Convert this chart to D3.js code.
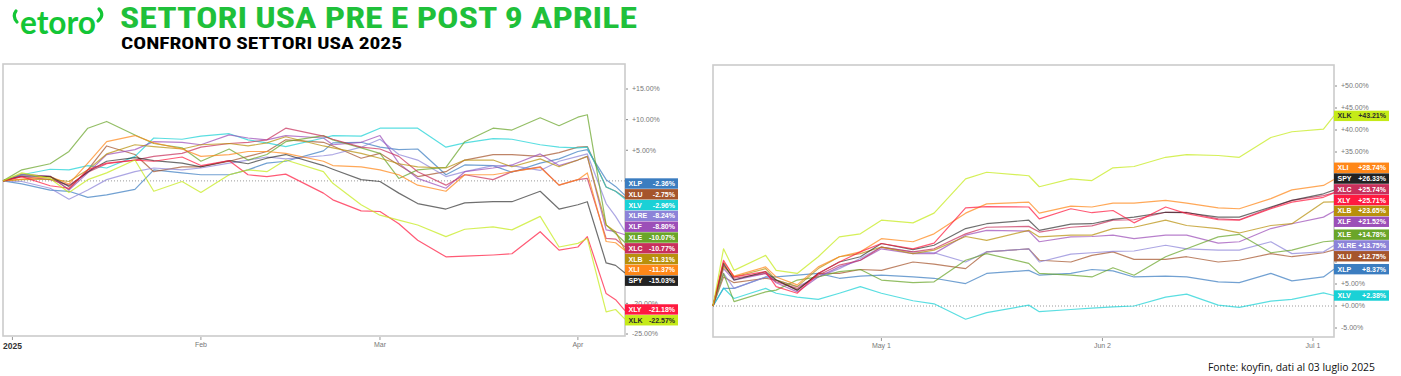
<!DOCTYPE html>
<html>
<head>
<meta charset="utf-8">
<script src="https://cdn.jsdelivr.net/npm/d3@7"></script>
<style>
  body { margin: 0; background: #fff; }
  svg { display: block; }
</style>
</head>
<body>
<script>
// tickers in legend order, with their colours
const tickers = ["XLP", "XLU", "XLV", "XLRE", "XLF", "XLE", "XLC", "XLB", "XLI", "SPY", "XLY", "XLK"];
const tickerColors = ["#3b7dc0", "#a5552c", "#1ad1d6", "#8c83d8", "#9c4fb8", "#6aa52a",
                      "#c8305c", "#b8900c", "#ff8718", "#222222", "#ff1a40", "#c5ea18"];

// market holidays (koyfin draws on trading days)
const holidays = ["2025-01-01", "2025-01-09", "2025-01-20", "2025-02-17", "2025-04-18", "2025-05-26", "2025-06-19"];

// ---- pre 9 April: % change since 31 Dec 2024 ----
const preDates = ["2024-12-31", "2025-01-03", "2025-01-08", "2025-01-13", "2025-01-15", "2025-01-17",
  "2025-01-23", "2025-01-27", "2025-01-30", "2025-02-03", "2025-02-06", "2025-02-10", "2025-02-12",
  "2025-02-14", "2025-02-21", "2025-02-24", "2025-02-27", "2025-03-03", "2025-03-05", "2025-03-07",
  "2025-03-12", "2025-03-14", "2025-03-19", "2025-03-21", "2025-03-26", "2025-03-28", "2025-04-01",
  "2025-04-02", "2025-04-04", "2025-04-07", "2025-04-08"];
const preXLP = [0, -0.5, -1.5, -1.7, -2.7, -2.3, -1.4, 1.8, 1.3, 1.0, 1.0, 1.8, 2.9, 3.2, 4.9, 6.2, 6.3, 5.5, 5.1, 5.2, 1.0, 2.6, 2.5, 1.4, 2.9, 3.6, 4.8, 5.1, 0.2, -0.9, -2.36];
const preXLU = [0, 1.1, 0.7, -1.4, 1.8, 5.7, 4.3, 1.5, 2.3, 2.3, 3.2, 4.0, 4.8, 6.7, 6.3, 5.7, 3.7, 4.5, 2.6, 0.7, 1.5, 3.4, 4.3, 4.3, 4.0, 4.6, 5.5, 5.6, -1.0, -1.7, -2.75];
const preXLV = [0, 1.0, 1.9, 1.8, 2.5, 2.1, 4.0, 7.0, 6.8, 7.3, 7.7, 6.7, 6.2, 5.6, 7.0, 7.4, 7.3, 8.6, 8.6, 8.6, 5.5, 6.2, 6.9, 6.8, 5.9, 5.5, 5.4, 5.5, -1.0, -1.7, -2.96];
const preXLRE = [0, -0.1, -1.2, -3.0, -1.5, 0.2, 1.5, 2.1, 1.8, 2.1, 2.9, 3.4, 3.9, 3.6, 4.1, 4.3, 5.5, 6.8, 4.3, 3.4, 0.7, 1.5, 2.5, 2.5, 1.7, 3.2, 4.0, 4.4, -3.7, -5.8, -8.24];
const preXLF = [0, 1.0, 0.8, -1.5, 1.3, 4.3, 5.1, 6.4, 6.3, 5.9, 7.5, 7.0, 6.7, 7.4, 7.0, 5.9, 6.3, 7.4, 2.9, 0.4, -1.2, 1.5, 2.1, 2.6, 4.4, 2.5, 3.4, 4.0, -8.0, -8.3, -8.80];
const preXLE = [0, 1.8, 2.8, 4.8, 8.6, 9.7, 7.5, 6.1, 5.4, 3.2, 5.2, 3.4, 4.3, 6.4, 7.4, 6.7, 5.4, 4.5, 0.4, 1.8, 2.2, 6.4, 8.6, 8.3, 10.3, 9.0, 10.4, 10.8, -7.2, -8.6, -10.07];
const preXLC = [0, 0.7, 0.2, -0.7, 1.4, 2.8, 3.4, 4.0, 4.5, 5.5, 6.1, 6.3, 6.7, 8.6, 7.3, 6.8, 5.5, 5.2, 4.0, 1.5, -0.7, 1.0, 0.2, 1.5, 2.3, -0.7, 0.2, 0.4, -9.4, -9.5, -10.77];
const preXLB = [0, 0.2, 0.3, -0.1, 1.8, 4.4, 5.9, 5.6, 5.2, 5.9, 6.1, 5.7, 6.2, 7.2, 5.7, 5.4, 4.5, 3.7, 2.8, 2.3, 2.1, 3.4, 3.4, 2.3, 3.6, 2.3, 3.4, 4.0, -7.2, -8.3, -11.31];
const preXLI = [0, 0.3, 0.7, -0.5, 2.9, 6.4, 7.4, 6.2, 5.2, 4.0, 4.3, 4.8, 4.8, 4.5, 3.2, 2.5, 2.3, 1.8, 1.0, -0.7, -1.7, 1.0, 1.0, 1.5, 2.2, -0.7, 0.2, 1.3, -9.9, -10.1, -11.37];
const preSPY = [0, 0.8, 0.7, -0.9, 1.5, 3.2, 3.8, 3.3, 2.9, 2.3, 3.3, 2.8, 3.7, 4.3, 2.5, 1.9, 0.2, -0.1, -2.0, -3.7, -4.6, -3.6, -3.4, -3.4, -1.7, -4.6, -3.9, -3.4, -13.4, -13.8, -15.03];
const preXLY = [0, 0.7, -0.8, -1.2, 1.8, 2.9, 3.4, 3.2, 3.9, 2.5, 3.3, 1.0, 0.7, 1.1, -2.0, -3.1, -4.9, -5.0, -7.0, -9.7, -12.4, -12.3, -12.1, -11.9, -8.3, -11.3, -10.8, -9.1, -18.4, -19.4, -21.18];
const preXLK = [0, 1.3, 0.4, -1.9, 0.2, 1.3, 3.4, -1.7, -0.1, -1.9, 1.0, 1.8, 1.5, 3.4, 1.5, -0.4, -3.9, -5.6, -6.4, -7.2, -9.1, -7.9, -7.5, -8.0, -5.8, -10.8, -10.2, -9.4, -21.4, -21.0, -22.57];

// ---- post 9 April: % change since 8 Apr 2025 ----
const postDates = ["2025-04-08", "2025-04-09", "2025-04-10", "2025-04-15", "2025-04-16", "2025-04-21",
  "2025-04-23", "2025-04-25", "2025-04-29", "2025-05-01", "2025-05-06", "2025-05-08", "2025-05-13",
  "2025-05-15", "2025-05-21", "2025-05-22", "2025-05-28", "2025-05-30", "2025-06-03", "2025-06-05",
  "2025-06-10", "2025-06-12", "2025-06-17", "2025-06-20", "2025-06-25", "2025-06-27", "2025-07-02",
  "2025-07-03"];
const postXLP = [0, 4.0, 4.0, 6.6, 6.6, 7.0, 7.4, 6.3, 6.8, 7.0, 6.6, 6.3, 5.1, 7.4, 8.1, 7.0, 7.4, 8.3, 8.0, 6.6, 6.8, 6.6, 5.5, 5.3, 7.4, 5.7, 6.6, 8.37];
const postXLU = [0, 6.6, 5.3, 6.3, 5.9, 3.6, 7.4, 7.4, 8.3, 8.1, 10.0, 9.5, 8.5, 12.3, 13.0, 10.4, 10.0, 11.5, 12.3, 10.6, 10.6, 11.2, 10.0, 10.4, 11.9, 11.2, 12.1, 12.75];
const postXLV = [0, 4.1, 1.7, 4.0, 2.9, 2.0, 1.5, 2.9, 4.4, 2.9, 1.2, 0.5, -3.0, -1.5, 0.2, -1.3, -0.8, -0.5, -0.2, 0, 2.0, 2.7, 0.2, -0.3, 1.1, 1.5, 3.0, 2.38];
const postXLRE = [0, 7.4, 4.0, 6.6, 5.9, 4.4, 6.6, 8.5, 10.8, 13.4, 12.3, 12.1, 10.0, 12.3, 13.0, 10.0, 11.8, 12.1, 12.4, 12.5, 13.8, 13.0, 12.7, 12.7, 14.6, 11.9, 12.3, 13.75];
const postXLF = [0, 8.5, 5.9, 7.4, 5.3, 3.2, 6.6, 8.9, 10.4, 13.0, 11.9, 11.9, 16.1, 17.2, 17.0, 14.6, 15.7, 15.8, 16.1, 15.3, 16.1, 16.1, 14.3, 14.6, 17.6, 18.7, 20.2, 21.52];
const postXLE = [0, 7.4, 1.0, 3.2, 3.6, 5.9, 6.6, 7.8, 8.3, 5.9, 5.3, 5.5, 10.4, 11.9, 9.7, 7.4, 7.0, 6.6, 8.7, 7.0, 11.2, 13.0, 15.7, 16.3, 12.1, 12.7, 14.6, 14.78];
const postXLC = [0, 9.3, 6.3, 7.4, 5.5, 4.0, 7.0, 9.3, 10.4, 13.4, 12.3, 13.0, 16.4, 17.9, 18.1, 16.8, 17.9, 18.2, 19.5, 19.6, 21.3, 21.3, 19.8, 19.6, 22.3, 24.0, 25.1, 25.74];
const postXLB = [0, 8.9, 6.6, 8.5, 5.9, 4.4, 8.5, 11.2, 11.9, 13.4, 11.9, 12.7, 15.8, 14.9, 17.2, 15.7, 16.1, 16.1, 17.6, 17.9, 19.5, 18.3, 17.6, 16.6, 18.3, 18.7, 23.6, 23.65];
const postXLI = [0, 10.0, 6.8, 8.9, 6.6, 4.8, 8.9, 11.2, 12.3, 15.3, 14.6, 16.4, 21.1, 23.2, 23.6, 21.1, 22.7, 22.5, 23.4, 23.4, 24.0, 23.4, 22.3, 22.1, 24.4, 26.4, 27.4, 28.74];
const postSPY = [0, 9.7, 5.9, 7.8, 5.9, 3.6, 7.4, 10.0, 11.2, 14.2, 12.8, 13.8, 17.6, 18.7, 19.5, 17.2, 18.6, 18.7, 19.7, 20.2, 21.3, 21.2, 20.2, 20.2, 22.5, 24.0, 25.5, 26.33];
const postXLY = [0, 10.4, 6.6, 7.8, 4.4, 2.9, 7.4, 10.0, 12.3, 14.2, 13.0, 14.3, 22.3, 22.6, 22.5, 19.8, 22.1, 21.2, 21.7, 18.9, 22.5, 21.0, 19.6, 19.5, 22.1, 23.6, 24.7, 25.71];
const postXLK = [0, 13.0, 8.1, 11.5, 8.1, 7.4, 11.2, 15.7, 16.4, 19.5, 18.9, 21.1, 28.9, 30.4, 29.6, 27.1, 28.9, 28.5, 31.4, 31.7, 33.8, 34.4, 34.2, 33.8, 38.3, 39.6, 40.2, 43.21];

const preTicks = [-25, -20, -15, -10, -5, 0, 5, 10, 15];
const postTicks = [-5, 0, 5, 10, 15, 20, 25, 30, 35, 40, 45, 50];

const preValues = [preXLP, preXLU, preXLV, preXLRE, preXLF, preXLE, preXLC, preXLB, preXLI, preSPY, preXLY, preXLK];
const postValues = [postXLP, postXLU, postXLV, postXLRE, postXLF, postXLE, postXLC, postXLB, postXLI, postSPY, postXLY, postXLK];

const W = 1401, H = 376;
const svg = d3.select("body").append("svg")
    .attr("width", W).attr("height", H)
    .style("font-family", "'Liberation Sans', Arial, sans-serif");

const parse = d3.utcParse("%Y-%m-%d");
const key = d3.utcFormat("%Y-%m-%d");
const holidaySet = new Set(holidays);

// list of trading days between two dates
function tradingDays(from, to) {
    return d3.utcDay.range(parse(from), d3.utcDay.offset(parse(to), 1))
        .filter(d => d.getUTCDay() > 0 && d.getUTCDay() < 6 && !holidaySet.has(key(d)));
}

const pctFmt = v => (v >= 0 ? "+" : "") + v.toFixed(2) + "%";

function drawPanel(p) {
    const days = tradingDays(p.dates[0], p.dates[p.dates.length - 1]);
    const idx = new Map(days.map((d, i) => [key(d), i]));

    const x = d3.scaleLinear().domain([0, days.length - 1]).range([p.left, p.right]);
    const y = d3.scaleLinear().domain([p.ticks[0], p.ticks[p.ticks.length - 1]]).range(p.yRange);

    const series = tickers.map((t, k) => ({
        name: t,
        color: tickerColors[k],
        pts: p.dates.map((ds, j) => ({ i: idx.get(ds), v: p.values[k][j] })).filter(d => d.i !== undefined)
    }));

    // end labels, pushed apart so they don't overlap
    const step = 10.8;
    const labels = series.map(s => {
        const last = s.pts[s.pts.length - 1].v;
        return { name: s.name, color: s.color, value: last, want: y(last) };
    }).sort((a, b) => a.want - b.want);
    let groups = [];
    labels.forEach(l => {
        groups.push({ items: [l], center: l.want });
        while (groups.length > 1) {
            const a = groups[groups.length - 2], b = groups[groups.length - 1];
            const aBottom = a.center + a.items.length * step / 2;
            const bTop = b.center - b.items.length * step / 2;
            if (aBottom <= bTop) break;
            const items = a.items.concat(b.items);
            groups.splice(-2, 2, { items, center: d3.mean(items, d => d.want) });
        }
    });
    groups.forEach(grp => {
        const top = grp.center - grp.items.length * step / 2;
        grp.items.forEach((l, i) => { l.y = top + i * step + step / 2; });
    });

    const g = svg.append("g");

    // frame
    g.append("rect")
        .attr("x", p.left).attr("y", p.top)
        .attr("width", p.right - p.left).attr("height", p.bottom - p.top)
        .attr("fill", "none").attr("stroke", "#cbcbcb").attr("stroke-width", 1.6);

    // zero line
    g.append("line")
        .attr("x1", p.left).attr("x2", p.right)
        .attr("y1", y(0)).attr("y2", y(0))
        .attr("stroke", "#9a9a9a").attr("stroke-width", 1)
        .attr("stroke-dasharray", "1,2");

    // y axis on the right (labels under a legend box are not shown)
    const covered = v => labels.some(l => Math.abs(y(v) - l.y) < step / 2 + 0.5);
    const yt = g.append("g").selectAll("g").data(p.ticks).join("g")
        .attr("transform", d => `translate(${p.right},${y(d)})`);
    yt.append("line").attr("x1", 1).attr("x2", 3).attr("stroke", "#888").attr("stroke-width", 1);
    yt.filter(d => !covered(d)).append("text")
        .attr("x", 7).attr("dy", "0.35em")
        .attr("font-size", 7).attr("fill", "#777")
        .text(pctFmt);

    // x axis: first trading day of each month
    const monthStarts = days.filter((d, i) => i > 0 && d.getUTCMonth() !== days[i - 1].getUTCMonth());
    const xt = g.append("g").selectAll("g").data(monthStarts).join("g")
        .attr("transform", d => `translate(${x(idx.get(key(d)))},${p.bottom})`);
    xt.append("line").attr("y1", 1).attr("y2", 4).attr("stroke", "#999");
    xt.append("text")
        .attr("y", 11).attr("text-anchor", "middle")
        .attr("font-size", d => d.getUTCMonth() === 0 ? 8.5 : 7)
        .attr("font-weight", d => d.getUTCMonth() === 0 ? "bold" : "normal")
        .attr("fill", d => d.getUTCMonth() === 0 ? "#333" : "#777")
        .attr("dy", d => d.getUTCMonth() === 0 ? 2 : 0)
        .text(p.tickFormat);

    // series lines
    const line = d3.line().x(d => x(d.i)).y(d => y(d.v));
    g.append("g").selectAll("path").data(series).join("path")
        .attr("d", s => line(s.pts))
        .attr("fill", "none")
        .attr("stroke", s => s.color)
        .attr("stroke-opacity", s => s.name === "SPY" ? 0.65 : 0.72)
        .attr("stroke-width", 1.2)
        .attr("stroke-linejoin", "round");

    // legend boxes
    const lg = g.append("g").selectAll("g").data(labels).join("g")
        .attr("transform", d => `translate(${p.right},${d.y})`);
    lg.append("rect")
        .attr("y", -step / 2 + 0.2).attr("width", p.boxW).attr("height", step - 0.4)
        .attr("fill", d => d.color);
    lg.append("text")
        .attr("x", 3.5).attr("dy", "0.36em")
        .attr("font-size", 7).attr("font-weight", "bold")
        .attr("fill", d => d.name === "XLK" ? "#2b2b2b" : "#fff")
        .text(d => d.name);
    lg.append("text")
        .attr("x", p.boxW - 3).attr("dy", "0.36em").attr("text-anchor", "end")
        .attr("font-size", 7).attr("font-weight", "bold")
        .attr("fill", d => d.name === "XLK" ? "#2b2b2b" : "#fff")
        .text(d => pctFmt(d.value));
}

drawPanel({
    dates: preDates, values: preValues, ticks: preTicks,
    left: 3, right: 625, top: 64, bottom: 336, yRange: [334, 89], boxW: 53,
    tickFormat: d => d.getUTCMonth() === 0 ? d3.utcFormat("%Y")(d) : d3.utcFormat("%b")(d)
});
drawPanel({
    dates: postDates, values: postValues, ticks: postTicks,
    left: 713, right: 1334, top: 65, bottom: 337, yRange: [328, 86], boxW: 55,
    tickFormat: d3.utcFormat("%b %-d")
});

// ---- header ----
const green = "#1fc03a";
const head = svg.append("g");
head.append("text")
    .attr("x", 20).attr("y", 34)
    .attr("font-family", "Lato, 'Open Sans', sans-serif").attr("font-weight", "bold")
    .attr("font-size", 33).attr("fill", "#13c636")
    .attr("textLength", 76).attr("lengthAdjust", "spacingAndGlyphs")
    .text("etoro");
head.append("path").attr("d", "M16,11 Q12,16 17,22")
    .attr("fill", "none").attr("stroke", "#13c636").attr("stroke-width", 3.2).attr("stroke-linecap", "round");
head.append("path").attr("d", "M99,9 Q105,15 98,21")
    .attr("fill", "none").attr("stroke", "#13c636").attr("stroke-width", 3.2).attr("stroke-linecap", "round");

head.append("text")
    .attr("x", 120).attr("y", 27.5)
    .attr("font-family", "'Liberation Sans Narrow', 'Roboto Condensed', 'DejaVu Sans Condensed', 'Liberation Sans', sans-serif")
    .attr("font-weight", "bold").attr("font-size", 29).attr("fill", green)
    .attr("textLength", 517).attr("lengthAdjust", "spacingAndGlyphs")
    .text("SETTORI USA PRE E POST 9 APRILE");
head.append("text")
    .attr("x", 121).attr("y", 48.5)
    .attr("font-family", "'Liberation Sans Narrow', 'Roboto Condensed', 'DejaVu Sans Condensed', 'Liberation Sans', sans-serif")
    .attr("font-weight", "bold").attr("font-size", 16.5).attr("fill", "#000")
    .attr("textLength", 281).attr("lengthAdjust", "spacingAndGlyphs")
    .text("CONFRONTO SETTORI USA 2025");

// source note
svg.append("text")
    .attr("x", 1375).attr("y", 371).attr("text-anchor", "end")
    .attr("font-family", "'Open Sans', 'Noto Sans', sans-serif")
    .attr("font-size", 10.5).attr("fill", "#111")
    .attr("textLength", 167).attr("lengthAdjust", "spacingAndGlyphs")
    .text("Fonte: koyfin, dati al 03 luglio 2025");
</script>
</body>
</html>
